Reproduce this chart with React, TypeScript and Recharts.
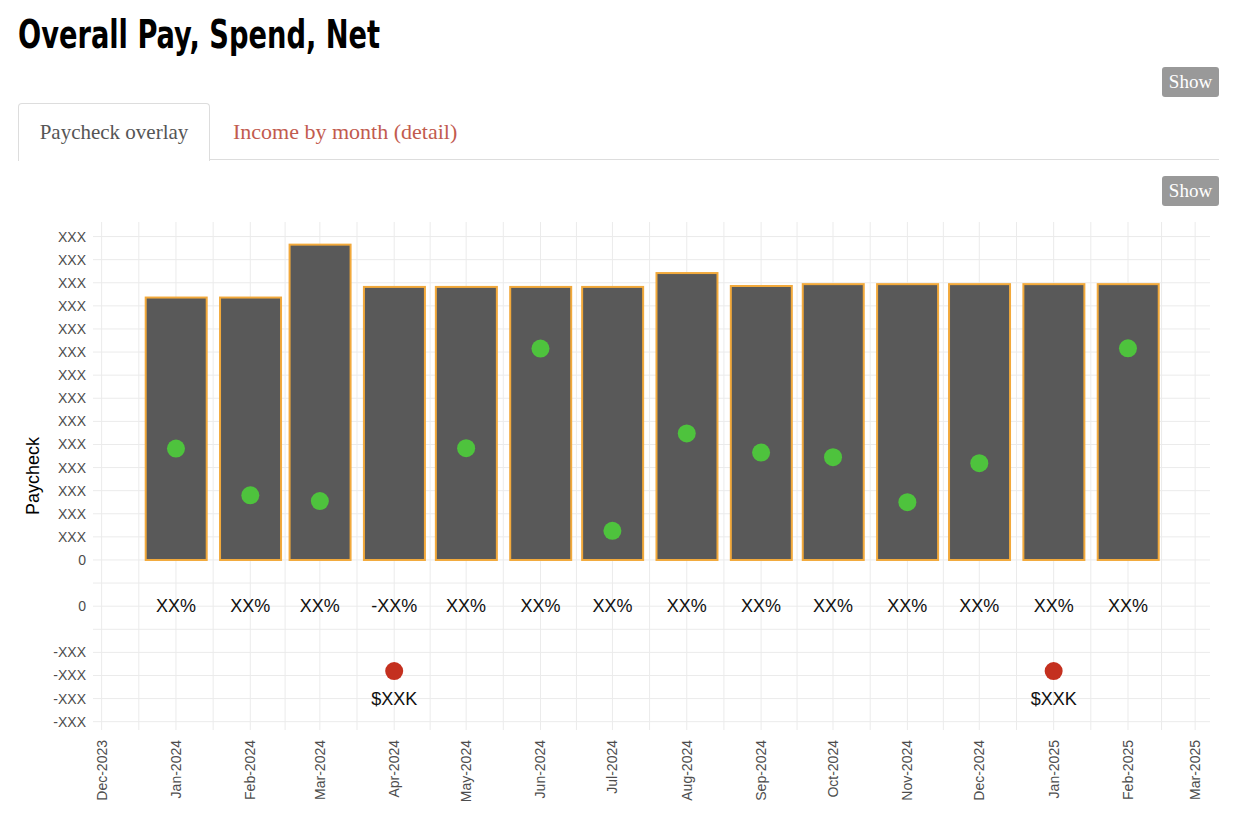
import React from 'react';
import { ComposedChart, Bar, Scatter, XAxis, YAxis, CartesianGrid } from 'recharts';

// ---------- data ----------
const months = [
  '2024-01', '2024-02', '2024-03', '2024-04', '2024-05', '2024-06', '2024-07',
  '2024-08', '2024-09', '2024-10', '2024-11', '2024-12', '2025-01', '2025-02',
];
const paycheck = [11.36, 11.36, 13.65, 11.82, 11.82, 11.82, 11.82, 12.42, 11.86, 11.94, 11.94, 11.94, 11.94, 11.94];
const savedPoints: (number | null)[] = [4.82, 2.8, 2.55, null, 4.84, 9.15, 1.26, 5.48, 4.65, 4.45, 2.5, 4.19, null, 9.16];
const pctLabels = ['XX%', 'XX%', 'XX%', '-XX%', 'XX%', 'XX%', 'XX%', 'XX%', 'XX%', 'XX%', 'XX%', 'XX%', 'XX%', 'XX%'];
const netShortfall: (number | null)[] = [null, null, null, -4.81, null, null, null, null, null, null, null, null, -4.81, null];
const netLabels = ['', '', '', '$XXK', '', '', '', '', '', '', '', '', '$XXK', ''];
const pctRowLevel = -2;

const xTickMonths = [
  '2023-12', '2024-01', '2024-02', '2024-03', '2024-04', '2024-05', '2024-06', '2024-07',
  '2024-08', '2024-09', '2024-10', '2024-11', '2024-12', '2025-01', '2025-02', '2025-03',
];
const xTickLabels = [
  'Dec-2023', 'Jan-2024', 'Feb-2024', 'Mar-2024', 'Apr-2024', 'May-2024', 'Jun-2024', 'Jul-2024',
  'Aug-2024', 'Sep-2024', 'Oct-2024', 'Nov-2024', 'Dec-2024', 'Jan-2025', 'Feb-2025', 'Mar-2025',
];
const yTicks = [-7, -6, -5, -4, -3, -2, -1, 0, 1, 2, 3, 4, 5, 6, 7, 8, 9, 10, 11, 12, 13, 14];
const yTickLabels = [
  '-XXX', '-XXX', '-XXX', '-XXX', '', '0', '', '0',
  'XXX', 'XXX', 'XXX', 'XXX', 'XXX', 'XXX', 'XXX', 'XXX', 'XXX', 'XXX', 'XXX', 'XXX', 'XXX', 'XXX',
];
const yDomain: [number, number] = [-7.36, 14.63];

// ---------- helpers ----------
const DAY = 86400000;
const ts = (m: string) => {
  const [y, mo] = m.split('-').map(Number);
  return Date.UTC(y, mo - 1, 1);
};
const majorTicks = xTickMonths.map(ts);
const minorTicks = majorTicks.slice(1).map((t, i) => (t + majorTicks[i]) / 2);
const allXTicks = [...majorTicks, ...minorTicks].sort((a, b) => a - b);
const xDomain: [number, number] = [majorTicks[0] - 3.6 * DAY, majorTicks[majorTicks.length - 1] + 6.2 * DAY];

const barData = months.map((m, i) => ({ date: ts(m), pay: paycheck[i] }));
const greenData = months
  .map((m, i) => ({ date: ts(m), saved: savedPoints[i] }))
  .filter((d) => d.saved !== null);
const pctData = months.map((m, i) => ({ date: ts(m), level: pctRowLevel, label: pctLabels[i] }));
const redData = months
  .map((m, i) => ({ date: ts(m), net: netShortfall[i], label: netLabels[i] }))
  .filter((d) => d.net !== null);

const SANS = '"Liberation Sans", Arial, Helvetica, sans-serif';
const SERIF = '"Liberation Serif", "Times New Roman", serif';

const BarShape = (p: any) => {
  const cx = p.x + p.width / 2;
  return (
    <rect x={cx - 30.5} y={p.y} width={61} height={p.height} fill="#595959" stroke="#f2a93b" strokeWidth={2} />
  );
};

const GreenDot = (p: any) => <circle cx={p.cx} cy={p.cy} r={9} fill="#4ec33d" />;

const PctText = (p: any) => (
  <text x={p.cx} y={p.cy} dy="0.35em" textAnchor="middle" fontSize={18} fontFamily={SANS} fill="#111">
    {p.payload.label}
  </text>
);

const RedDot = (p: any) => (
  <g>
    <circle cx={p.cx} cy={p.cy} r={9} fill="#c4301f" />
    <text x={p.cx} y={p.cy + 28} dy="0.35em" textAnchor="middle" fontSize={18} fontFamily={SANS} fill="#111">
      {p.payload.label}
    </text>
  </g>
);

const XTick = (p: any) => {
  const idx = majorTicks.indexOf(p.payload.value);
  if (idx < 0) return <g />;
  return (
    <text
      x={p.x}
      y={p.y}
      transform={`rotate(-90 ${p.x} ${p.y})`}
      textAnchor="end"
      dy="0.35em"
      fontSize={14}
      fontFamily={SANS}
      fill="#4d4d4d"
    >
      {xTickLabels[idx]}
    </text>
  );
};

const showBtn: React.CSSProperties = {
  position: 'absolute',
  left: 1162,
  width: 57,
  height: 30,
  background: '#999999',
  borderRadius: 3,
  color: '#fff',
  fontFamily: SERIF,
  fontSize: 19,
  display: 'flex',
  alignItems: 'center',
  justifyContent: 'center',
};

export default function App() {
  return (
    <div style={{ position: 'absolute', left: 0, top: 0, width: 1248, height: 832, background: '#fff', overflow: 'hidden' }}>
      <ComposedChart
        width={1248}
        height={832}
        data={barData}
        margin={{ top: 222, right: 38, bottom: 12, left: 33 }}
      >
        <CartesianGrid stroke="#ebebeb" strokeWidth={1} syncWithTicks />
        <XAxis
          dataKey="date"
          type="number"
          domain={xDomain}
          allowDataOverflow
          ticks={allXTicks}
          interval={0}
          tick={<XTick />}
          tickLine={false}
          axisLine={false}
          tickSize={6}
          tickMargin={4}
          height={90}
        />
        <YAxis
          type="number"
          domain={yDomain}
          allowDataOverflow
          ticks={yTicks}
          interval={0}
          tickFormatter={(v: number) => yTickLabels[yTicks.indexOf(v)] ?? ''}
          tick={{ fill: '#4d4d4d', fontSize: 14, fontFamily: SANS }}
          tickLine={false}
          axisLine={false}
          tickSize={5}
          tickMargin={2}
          width={60}
        />
        <Bar dataKey="pay" barSize={30} shape={BarShape} isAnimationActive={false} />
        <Scatter data={greenData} dataKey="saved" shape={GreenDot} isAnimationActive={false} />
        <Scatter data={pctData} dataKey="level" shape={PctText} isAnimationActive={false} />
        <Scatter data={redData} dataKey="net" shape={RedDot} isAnimationActive={false} />
      </ComposedChart>

      <div
        style={{
          position: 'absolute',
          left: 18,
          top: 15,
          fontFamily: '"Liberation Sans Narrow", "DejaVu Sans Condensed", Arial, sans-serif',
          fontWeight: 700,
          fontSize: 39,
          lineHeight: '39px',
          color: '#000',
          whiteSpace: 'nowrap',
          transform: 'scaleX(0.777)',
          transformOrigin: 'left center',
        }}
      >
        Overall Pay, Spend, Net
      </div>

      <div style={{ ...showBtn, top: 67 }}>Show</div>

      <div
        style={{
          position: 'absolute',
          left: 18,
          top: 103,
          width: 190,
          height: 57,
          border: '1px solid #dddddd',
          borderBottom: 'none',
          borderRadius: '4px 4px 0 0',
          background: '#fff',
          display: 'flex',
          alignItems: 'center',
          justifyContent: 'center',
          fontFamily: SERIF,
          fontSize: 21,
          color: '#555555',
          whiteSpace: 'nowrap',
        }}
      >
        Paycheck overlay
      </div>
      <div style={{ position: 'absolute', left: 209, top: 159, width: 1010, height: 1, background: '#dddddd' }} />
      <div
        style={{
          position: 'absolute',
          left: 233,
          top: 103,
          height: 57,
          display: 'flex',
          alignItems: 'center',
          fontFamily: SERIF,
          fontSize: 22,
          color: '#c25b4e',
          whiteSpace: 'nowrap',
        }}
      >
        Income by month (detail)
      </div>

      <div style={{ ...showBtn, top: 176 }}>Show</div>

      <div
        style={{
          position: 'absolute',
          left: 33,
          top: 476,
          transform: 'translate(-50%, -50%) rotate(-90deg)',
          fontFamily: SANS,
          fontSize: 18,
          color: '#000',
          whiteSpace: 'nowrap',
        }}
      >
        Paycheck
      </div>
    </div>
  );
}
